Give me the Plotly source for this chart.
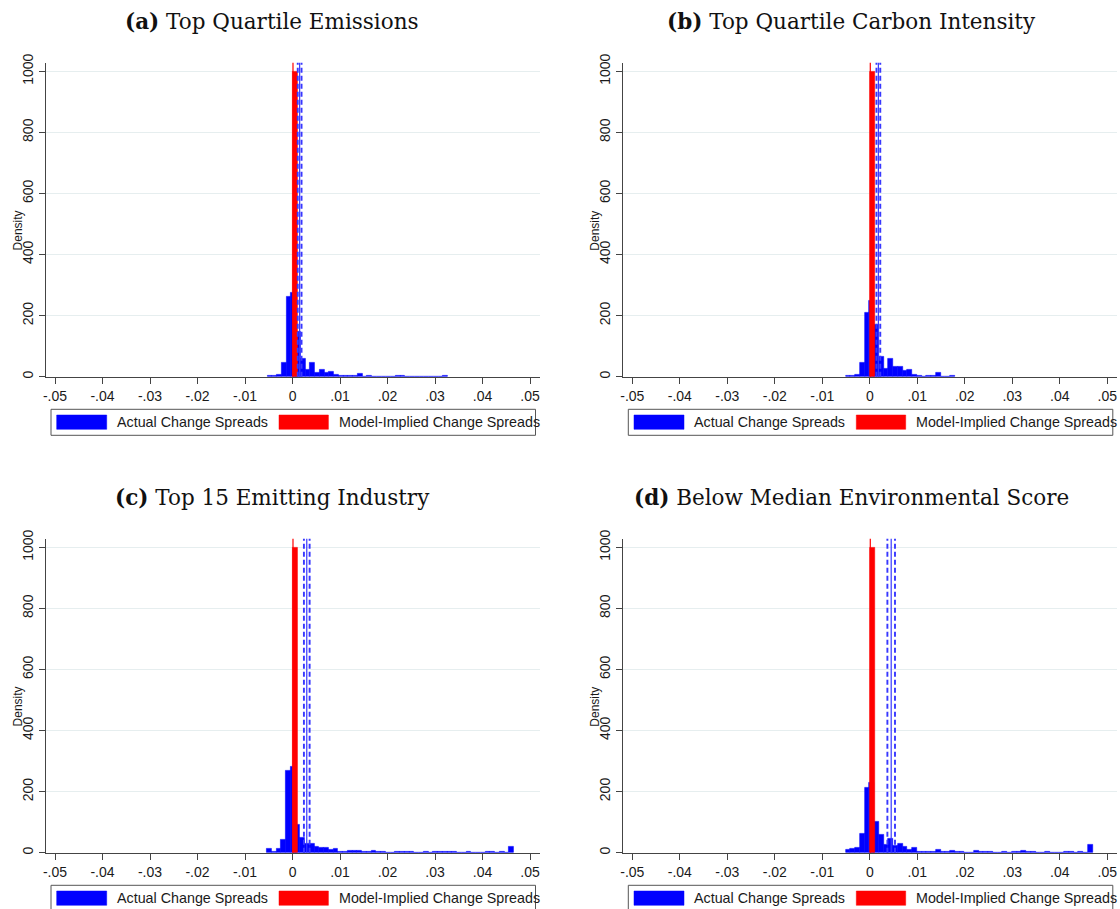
import plotly.graph_objects as go

W, H = 1120, 909
BIN_W = 0.001

# ---- data -------------------------------------------------------------
panel_titles = [
    "<b>(a)</b> Top Quartile Emissions",
    "<b>(b)</b> Top Quartile Carbon Intensity",
    "<b>(c)</b> Top 15 Emitting Industry",
    "<b>(d)</b> Below Median Environmental Score",
]

# left edge of the first histogram bin for the actual change spreads
actual_start = [-0.0053, -0.0051, -0.0054, -0.0051]

# densities of consecutive 0.001-wide bins
actual_density_a = [3, 3, 7, 47, 262, 276, 148, 58, 23, 47,
                    14, 23, 12, 15, 6, 2, 2, 3, 3, 10,
                    0, 2, 0, 0, 0, 0, 0, 3, 3, 0,
                    0, 0, 0, 0, 0, 0, 0, 3]
actual_density_b = [3, 3, 7, 45, 211, 248, 170, 66, 26, 60,
                    32, 32, 21, 23, 8, 2, 0, 3, 3, 13,
                    0, 0, 4]
actual_density_c = [12, 4, 12, 41, 267, 283, 91, 50, 28, 31,
                    21, 15, 15, 11, 12, 4, 4, 6, 6, 6,
                    4, 4, 6, 3, 3, 0, 0, 4, 4, 4,
                    4, 0, 0, 2, 0, 3, 3, 3, 3, 3,
                    0, 0, 2, 0, 0, 0, 2, 2, 0, 3,
                    0, 19]
actual_density_d = [9, 12, 15, 61, 212, 230, 102, 59, 25, 47,
                    22, 30, 20, 10, 15, 4, 4, 4, 4, 9,
                    4, 4, 8, 3, 3, 0, 0, 7, 3, 3,
                    3, 0, 0, 2, 0, 3, 3, 5, 3, 3,
                    0, 0, 2, 0, 0, 0, 3, 4, 0, 3,
                    0, 25]
actual_density = [actual_density_a, actual_density_b,
                  actual_density_c, actual_density_d]

# model-implied change spreads fall into a single bin
model_start = [0.0, 0.0, 0.0, 0.0]
model_density = [1000, 1000, 1000, 1000]

# reference lines: model-implied mean, actual mean and its confidence band
model_mean = [0.0001, 0.0001, 0.0001, 0.0001]
actual_mean = [0.0015, 0.0018, 0.0030, 0.0045]
actual_ci_lo = [0.0011, 0.0014, 0.0024, 0.0037]
actual_ci_hi = [0.0019, 0.0022, 0.0036, 0.0053]

x_tickvals = [-0.05, -0.04, -0.03, -0.02, -0.01, 0, 0.01, 0.02, 0.03, 0.04, 0.05]
x_ticktext = ["-.05", "-.04", "-.03", "-.02", "-.01", "0", ".01", ".02", ".03", ".04", ".05"]
y_tickvals = [0, 200, 400, 600, 800, 1000]

legend_labels = ["Actual Change Spreads", "Model-Implied Change Spreads"]
colors = ["#0000ff", "#ff0000"]

# ---- layout geometry (pixels) ----------------------------------------
plot_left = [45.7, 623.0, 45.7, 623.0]
plot_right = [540.0, 1117.3, 540.0, 1117.3]
plot_top = [62.7, 62.7, 538.7, 538.7]
plot_bottom = [376.7, 376.7, 852.7, 852.7]
x_range = [-0.05196, 0.0521]
y_range = [0, 1028]
title_cx = [272, 851, 272, 851]
title_cy = [21.5, 21.5, 497, 497]


def px(x):
    return x / W


def py(y):
    return 1 - y / H


TICK_FONT = dict(family="Liberation Sans, Arial, sans-serif", size=14, color="#1a1a1a")
KEY_FONT = dict(family="Liberation Sans, Arial, sans-serif", size=14.3, color="#1a1a1a")
AXIS_COLOR = "#444444"
GRID_COLOR = "#e6eeef"
LINE_BLUE = "#3838ff"

fig = go.Figure()
shapes = []
annotations = []
layout_axes = {}

for i in range(4):
    sfx = "" if i == 0 else str(i + 1)
    xa, ya = "x" + sfx, "y" + sfx

    # actual change spreads histogram
    dens = actual_density[i]
    centers = [actual_start[i] + (k + 0.5) * BIN_W for k in range(len(dens))]
    fig.add_trace(go.Bar(
        x=centers, y=dens, width=BIN_W, xaxis=xa, yaxis=ya,
        marker=dict(color=colors[0], line=dict(color=colors[0], width=0.6)),
        name=legend_labels[0], showlegend=False, hoverinfo="x+y",
    ))
    # model-implied change spreads histogram
    fig.add_trace(go.Bar(
        x=[model_start[i] + BIN_W / 2], y=[model_density[i]], width=BIN_W,
        xaxis=xa, yaxis=ya,
        marker=dict(color=colors[1], line=dict(color=colors[1], width=0.6)),
        name=legend_labels[1], showlegend=False, hoverinfo="x+y",
    ))

    layout_axes["xaxis" + sfx] = dict(
        domain=[px(plot_left[i]), px(plot_right[i])], anchor=ya,
        range=x_range, tickvals=x_tickvals, ticktext=x_ticktext,
        ticks="outside", ticklen=6, tickcolor=AXIS_COLOR, tickwidth=1,
        showline=True, linecolor=AXIS_COLOR, linewidth=1,
        showgrid=False, zeroline=False, tickfont=TICK_FONT,
        automargin=False, fixedrange=True,
    )
    layout_axes["yaxis" + sfx] = dict(
        domain=[py(plot_bottom[i]), py(plot_top[i])], anchor=xa,
        range=y_range, tickvals=y_tickvals, tickangle=-90,
        ticks="outside", ticklen=6, tickcolor=AXIS_COLOR, tickwidth=1,
        showline=True, linecolor=AXIS_COLOR, linewidth=1,
        showgrid=True, gridcolor=GRID_COLOR, gridwidth=1,
        zeroline=False, tickfont=TICK_FONT,
        automargin=False, fixedrange=True,
    )

    # reference lines spanning the plot region
    yref = ya + " domain"
    shapes.append(dict(type="line", xref=xa, yref=yref, x0=model_mean[i], x1=model_mean[i],
                       y0=0, y1=1, line=dict(color=colors[1], width=1.2), layer="above"))
    shapes.append(dict(type="line", xref=xa, yref=yref, x0=actual_mean[i], x1=actual_mean[i],
                       y0=0, y1=1, line=dict(color=LINE_BLUE, width=1.2), layer="above"))
    for v in (actual_ci_lo[i], actual_ci_hi[i]):
        shapes.append(dict(type="line", xref=xa, yref=yref, x0=v, x1=v, y0=0, y1=1,
                           line=dict(color=LINE_BLUE, width=1.9, dash="5px,3px"),
                           layer="above"))

    # panel title
    annotations.append(dict(
        text=panel_titles[i], x=px(title_cx[i]), y=py(title_cy[i]),
        xref="paper", yref="paper", xanchor="center", yanchor="middle",
        showarrow=False,
        font=dict(family="DejaVu Serif, serif", size=21.5, color="#111111"),
    ))
    # y axis title
    annotations.append(dict(
        text="Density", x=px(plot_left[i] - 28), y=py((plot_top[i] + plot_bottom[i]) / 2 + 11),
        xref="paper", yref="paper", xanchor="center", yanchor="middle",
        textangle=-90, showarrow=False,
        font=dict(family="Liberation Sans, Arial, sans-serif", size=12, color="#1a1a1a"),
    ))

    # key below the plot region
    off = plot_left[i] - 45.7
    bt = plot_bottom[i] + 32.6
    shapes.append(dict(type="rect", xref="paper", yref="paper",
                       x0=px(51 + off), x1=px(535.5 + off), y0=py(bt + 26), y1=py(bt),
                       line=dict(color="#555555", width=1), fillcolor="white", layer="above"))
    swatch_x = [(56.7, 106.7), (279.0, 328.4)]
    text_x = [115.0, 336.7]
    for j in range(2):
        shapes.append(dict(type="rect", xref="paper", yref="paper",
                           x0=px(swatch_x[j][0] + off), x1=px(swatch_x[j][1] + off),
                           y0=py(bt + 20), y1=py(bt + 5.7),
                           line=dict(color=colors[j], width=0.5), fillcolor=colors[j],
                           layer="above"))
        annotations.append(dict(
            text=legend_labels[j], x=px(text_x[j] + off), y=py(bt + 13),
            xref="paper", yref="paper", xanchor="left", yanchor="middle",
            showarrow=False, font=KEY_FONT,
        ))

fig.update_layout(
    template="none",
    width=W, height=H,
    margin=dict(l=0, r=0, t=0, b=0, pad=0, autoexpand=False),
    paper_bgcolor="white", plot_bgcolor="white",
    barmode="overlay", bargap=0,
    showlegend=False,
    font=dict(family="Liberation Sans, Arial, sans-serif"),
    shapes=shapes, annotations=annotations,
    **layout_axes,
)

fig.write_html("out.html", config={"displayModeBar": False})
